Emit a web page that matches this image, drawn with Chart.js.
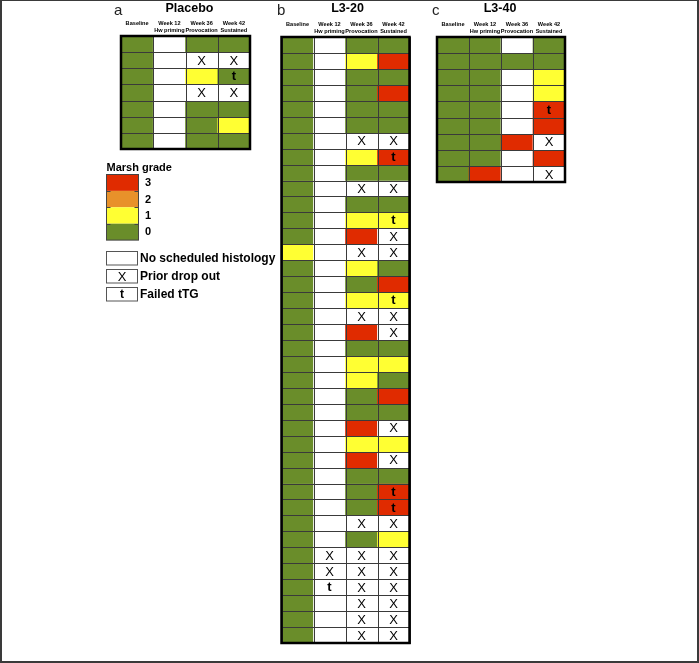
<!DOCTYPE html>
<html>
<head>
<meta charset="utf-8">
<script src="https://cdn.jsdelivr.net/npm/chart.js@4.4.1/dist/chart.umd.min.js"></script>
<style>
html,body{margin:0;padding:0;background:#fff;}
canvas{position:absolute;left:0;top:0;}
#frame{position:absolute;left:0;top:0;width:699px;height:663px;box-sizing:border-box;border:2px solid #3a3a3a;border-top-width:1px;pointer-events:none;}
</style>
</head>
<body>
<canvas id="cA" width="699" height="663"></canvas>
<canvas id="cB" width="699" height="663"></canvas>
<canvas id="cC" width="699" height="663"></canvas>
<div id="frame"></div>
<script>
// ---- Data ----
// Column headers (time points)
const columns = [['Baseline'], ['Week 12', 'Hw priming'], ['Week 36', 'Provocation'], ['Week 42', 'Sustained']];
const panelTitles = ['Placebo', 'L3-20', 'L3-40'];
const panelLetters = ['a', 'b', 'c'];
// Cell codes: '0'..'3' = Marsh grade, 'N' = no scheduled histology, 'X' = prior drop out, suffix 't' = failed tTG
const placeboRows = [
  ['0','N','0','0'],
  ['0','N','X','X'],
  ['0','N','1','0t'],
  ['0','N','X','X'],
  ['0','N','0','0'],
  ['0','N','0','1'],
  ['0','N','0','0']
];
const l320Rows = [
  ['0','N','0','0'],
  ['0','N','1','3'],
  ['0','N','0','0'],
  ['0','N','0','3'],
  ['0','N','0','0'],
  ['0','N','0','0'],
  ['0','N','X','X'],
  ['0','N','1','3t'],
  ['0','N','0','0'],
  ['0','N','X','X'],
  ['0','N','0','0'],
  ['0','N','1','1t'],
  ['0','N','3','X'],
  ['1','N','X','X'],
  ['0','N','1','0'],
  ['0','N','0','3'],
  ['0','N','1','1t'],
  ['0','N','X','X'],
  ['0','N','3','X'],
  ['0','N','0','0'],
  ['0','N','1','1'],
  ['0','N','1','0'],
  ['0','N','0','3'],
  ['0','N','0','0'],
  ['0','N','3','X'],
  ['0','N','1','1'],
  ['0','N','3','X'],
  ['0','N','0','0'],
  ['0','N','0','3t'],
  ['0','N','0','3t'],
  ['0','N','X','X'],
  ['0','N','0','1'],
  ['0','X','X','X'],
  ['0','X','X','X'],
  ['0','Nt','X','X'],
  ['0','N','X','X'],
  ['0','N','X','X'],
  ['0','N','X','X']
];
const l340Rows = [
  ['0','0','N','0'],
  ['0','0','0','0'],
  ['0','0','N','1'],
  ['0','0','N','1'],
  ['0','0','N','3t'],
  ['0','0','N','3'],
  ['0','0','3','X'],
  ['0','0','N','3'],
  ['0','3','N','X']
];
const gradeLabels = ['3', '2', '1', '0'];
const keyLabels = ['No scheduled histology', 'Prior drop out', 'Failed tTG'];
const keyMarks = ['', 'X', 't'];

// ---- Styles ----
const FONT = '"Liberation Sans", Arial, sans-serif';
const gradeColors = {'0': '#6a8d2a', '1': '#ffff33', '2': '#e8912a', '3': '#e02b00'};
function fillFor(code) {
  const g = code.charAt(0);
  return gradeColors[g] || '#ffffff';
}

const cellPlugin = {
  id: 'cellPlugin',
  afterDatasetsDraw(chart) {
    const ctx = chart.ctx;
    const area = chart.chartArea;
    ctx.save();
    ctx.strokeStyle = '#3a3a3a';
    ctx.lineWidth = 1;
    chart.data.datasets.forEach((ds, di) => {
      const meta = chart.getDatasetMeta(di);
      meta.data.forEach((bar) => {
        const p = bar.getProps(['x', 'y', 'base', 'width'], true);
        const l = Math.round(p.x - p.width / 2) + 0.5;
        const r = Math.round(p.x + p.width / 2) + 0.5;
        const t = Math.round(Math.min(p.y, p.base)) + 0.5;
        const b = Math.round(Math.max(p.y, p.base)) + 0.5;
        ctx.strokeRect(l, t, r - l, b - t);
      });
    });
    chart.data.datasets.forEach((ds, di) => {
      const meta = chart.getDatasetMeta(di);
      meta.data.forEach((bar, ci) => {
        const code = ds.codes[ci];
        const p = bar.getProps(['x', 'y', 'base'], true);
        const cy = (p.y + p.base) / 2;
        ctx.fillStyle = '#000';
        ctx.textAlign = 'center';
        ctx.textBaseline = 'middle';
        if (code === 'X') {
          ctx.font = '13px ' + FONT;
          ctx.fillText('X', p.x, cy + 1);
        } else if (code.endsWith('t')) {
          ctx.font = 'bold 13px ' + FONT;
          ctx.fillText('t', p.x, cy + 0.5);
        }
      });
    });
    ctx.lineWidth = 2.5;
    ctx.strokeStyle = '#000';
    ctx.strokeRect(area.left, area.top, area.right - area.left, area.bottom - area.top);
    ctx.restore();
  },
  afterDraw(chart) {
    const ctx = chart.ctx;
    const area = chart.chartArea;
    const xs = chart.scales.x;
    const opts = chart.options.plugins.cellPlugin;
    ctx.save();
    ctx.fillStyle = '#000';
    ctx.textAlign = 'center';
    ctx.textBaseline = 'middle';
    ctx.font = 'bold 5.6px ' + FONT;
    chart.data.labels.forEach((lab, i) => {
      const x = xs.getPixelForValue(i);
      const lines = Array.isArray(lab) ? lab : [lab];
      lines.forEach((ln, k) => ctx.fillText(ln, x, area.top - 13 + k * 7));
    });
    ctx.font = 'bold 12.5px ' + FONT;
    ctx.fillText(opts.title, (area.left + area.right) / 2 + opts.titleDx, 9);
    ctx.font = '15px ' + FONT;
    ctx.textAlign = 'left';
    ctx.textBaseline = 'alphabetic';
    ctx.fillStyle = '#222';
    ctx.fillText(opts.letter, area.left - opts.letterDx, 15);
    ctx.restore();
  }
};

const legendPlugin = {
  id: 'marshLegend',
  afterDraw(chart) {
    const ctx = chart.ctx;
    ctx.save();
    ctx.fillStyle = '#000';
    ctx.font = 'bold 11px ' + FONT;
    ctx.textAlign = 'left';
    ctx.textBaseline = 'alphabetic';
    ctx.fillText('Marsh grade', 106.5, 171);
    const bx = 106.5, bw = 32, by = 174.5, bh = 16.4;
    gradeLabels.forEach((g, i) => {
      ctx.fillStyle = gradeColors[g];
      ctx.fillRect(bx, by + i * bh, bw, bh);
      ctx.fillStyle = '#000';
      ctx.font = 'bold 11px ' + FONT;
      ctx.textBaseline = 'middle';
      ctx.fillText(g, 145, by + i * bh + bh / 2 + 0.5);
    });
    ctx.strokeStyle = '#444';
    ctx.lineWidth = 1;
    ctx.strokeRect(bx, by, bw, bh * 4);
    for (let i = 1; i < 4; i++) {
      const y = Math.round(by + i * bh) + 0.5;
      ctx.beginPath();
      ctx.moveTo(bx, y); ctx.lineTo(bx + 4, y);
      ctx.moveTo(bx + bw - 4, y); ctx.lineTo(bx + bw, y);
      ctx.stroke();
    }
    const boxY = [251.5, 269.5, 287.5];
    keyLabels.forEach((lab, i) => {
      ctx.strokeStyle = '#555';
      ctx.strokeRect(106.5, boxY[i], 31, 13.5);
      ctx.fillStyle = '#000';
      ctx.textBaseline = 'middle';
      if (keyMarks[i] === 'X') {
        ctx.textAlign = 'center';
        ctx.font = '13px ' + FONT;
        ctx.fillText('X', 122, boxY[i] + 7.5);
      } else if (keyMarks[i] === 't') {
        ctx.textAlign = 'center';
        ctx.font = 'bold 12px ' + FONT;
        ctx.fillText('t', 122, boxY[i] + 7);
      }
      ctx.textAlign = 'left';
      ctx.font = 'bold 12px ' + FONT;
      ctx.fillText(lab, 140, boxY[i] + 7);
    });
    ctx.restore();
  }
};

function makePanel(canvasId, rows, idx, box, extraPlugins) {
  const datasets = rows.map((row, r) => ({
    label: 'Row ' + (r + 1),
    data: row.map(() => 1),
    codes: row,
    backgroundColor: row.map(fillFor),
    borderWidth: 0,
    barPercentage: 1,
    categoryPercentage: 1,
    stack: 'cells'
  }));
  return new Chart(document.getElementById(canvasId), {
    type: 'bar',
    data: { labels: columns, datasets },
    options: {
      responsive: false,
      animation: false,
      devicePixelRatio: 1,
      layout: { padding: { left: box.left, top: box.top, right: 699 - box.right, bottom: 663 - box.bottom } },
      scales: {
        x: { type: 'category', stacked: true, display: false },
        y: { type: 'linear', stacked: true, display: false, min: 0, max: rows.length, reverse: true }
      },
      plugins: {
        legend: { display: false },
        tooltip: { enabled: false },
        cellPlugin: { title: panelTitles[idx], letter: panelLetters[idx], titleDx: box.titleDx, letterDx: box.letterDx }
      }
    },
    plugins: [cellPlugin].concat(extraPlugins || [])
  });
}

makePanel('cA', placeboRows, 0, { left: 121, top: 36, right: 250, bottom: 149, titleDx: 4, letterDx: 7 }, [legendPlugin]);
makePanel('cB', l320Rows, 1, { left: 281.5, top: 37, right: 409.5, bottom: 643, titleDx: 2, letterDx: 4.5 });
makePanel('cC', l340Rows, 2, { left: 437, top: 37, right: 565, bottom: 182, titleDx: -1, letterDx: 5 });
</script>
</body>
</html>
